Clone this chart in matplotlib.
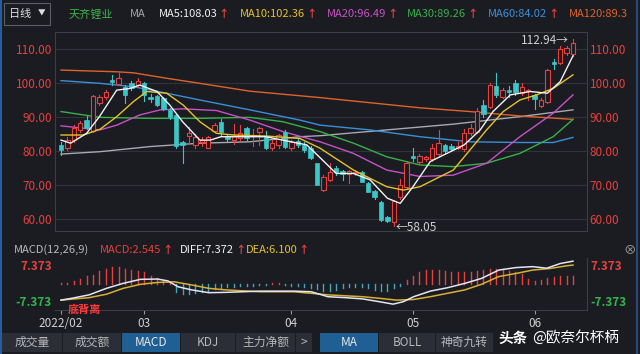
import matplotlib
matplotlib.use('Agg')
import matplotlib.pyplot as plt
from matplotlib.patches import Rectangle
from matplotlib.lines import Line2D

plt.rcParams['font.family'] = ['Noto Sans CJK SC', 'DejaVu Sans']

# daily candles, 2022-02 .. 2022-06
opens = [81.8, 80.8, 83.2, 86.2, 89.0, 86.0, 94.1, 95.8, 100.8, 99.7,
         98.9, 100.1, 99.3, 100.1, 95.8, 96.2, 95.5, 92.1, 90.5, 82.5,
         84.5, 81.8, 82.5, 81.0, 86.0, 88.5, 84.0, 83.2, 83.8, 86.7,
         84.3, 85.7, 84.4, 80.8, 81.8, 85.5, 80.8, 83.0, 81.8, 81.0,
         76.4, 68.5, 71.5, 74.9, 74.0, 73.2, 73.6, 73.9, 70.5, 68.3,
         65.1, 60.5, 59.0, 66.5, 69.5, 78.5, 76.8, 77.5, 77.5, 79.0,
         81.8, 81.5, 80.9, 80.5, 85.2, 85.5, 93.5, 93.0, 99.0, 96.0,
         97.8, 99.9, 97.0, 97.5, 96.5, 93.2, 94.5, 106.2, 105.8, 108.8,
         108.5]
highs = [82.5, 84.2, 87.5, 88.8, 90.3, 96.5, 96.5, 97.8, 102.3, 102.9,
         99.5, 100.5, 101.5, 100.3, 96.8, 96.6, 95.8, 92.6, 91.0, 83.0,
         87.0, 85.0, 84.0, 84.5, 88.2, 89.5, 84.6, 88.0, 87.6, 87.0,
         86.5, 87.2, 86.0, 83.2, 85.0, 86.2, 83.2, 83.5, 82.5, 81.5,
         76.6, 72.8, 76.4, 75.5, 74.5, 74.5, 74.3, 74.2, 70.8, 68.6,
         65.4, 61.0, 65.6, 71.8, 77.0, 81.0, 79.0, 78.6, 82.0, 86.2,
         82.2, 82.0, 82.5, 86.5, 88.0, 92.5, 95.0, 100.0, 103.0, 98.5,
         99.0, 100.9, 100.0, 98.3, 96.8, 95.5, 104.0, 107.2, 111.0, 110.8,
         112.94]
lows = [78.8, 80.3, 82.5, 85.5, 86.5, 85.5, 93.5, 95.3, 99.5, 99.3,
        94.0, 98.0, 98.9, 94.8, 94.3, 93.3, 92.0, 89.5, 81.0, 76.4,
        82.0, 80.9, 81.5, 80.8, 85.5, 84.5, 82.5, 82.0, 83.0, 83.2,
        81.5, 81.8, 80.5, 80.3, 81.0, 80.8, 80.3, 81.2, 79.8, 77.5,
        70.0, 68.3, 71.2, 73.0, 71.5, 70.5, 72.8, 70.8, 67.8, 66.0,
        59.5, 59.2, 58.05, 66.0, 69.0, 77.0, 76.3, 77.0, 77.2, 78.5,
        79.5, 80.0, 80.5, 80.0, 84.8, 85.2, 90.0, 92.5, 96.0, 95.5,
        96.0, 96.5, 96.5, 95.0, 92.3, 92.8, 94.0, 104.0, 105.5, 108.3,
        108.0]
closes = [80.3, 83.2, 86.8, 88.2, 86.9, 96.2, 95.9, 97.4, 100.4, 101.4,
          96.5, 98.6, 100.5, 96.5, 95.3, 93.6, 92.4, 89.9, 81.5, 81.9,
          85.2, 84.2, 83.2, 84.0, 87.6, 85.5, 83.5, 84.3, 85.3, 83.7,
          84.7, 86.7, 81.0, 82.3, 84.7, 81.3, 82.7, 81.8, 80.3, 78.0,
          70.0, 72.4, 73.9, 73.9, 73.2, 74.0, 73.9, 71.0, 68.0, 66.4,
          59.7, 59.5, 65.2, 70.0, 76.4, 78.0, 78.5, 78.3, 80.8, 82.3,
          80.0, 80.5, 81.5, 85.2, 86.8, 91.8, 91.0, 99.4, 96.5, 97.9,
          97.3, 97.4, 98.7, 97.8, 95.2, 95.0, 103.8, 105.6, 110.0, 110.2,
          111.7]

# moving average lines (candle index, value)
ma5_x = [0, 1.5, 4, 6, 8.7, 10.8, 12.3, 15, 17, 19, 21.7, 23.3, 25, 27, 32, 36,
         38.4, 40.5, 43, 45.7, 48.3, 51, 53, 55, 57.7, 60.3, 63, 65.5, 67.5,
         70.2, 73.3, 76, 78, 80]
ma5_y = [83.2, 82.3, 85.2, 90.1, 97.9, 98.4, 99.4, 97.5, 93.5, 88.6, 83.2, 83.2,
         84.2, 84.2, 84.2, 82.7, 81.8, 78.0, 73.4, 73.4, 71.5, 66.1, 64.6, 69.5,
         76.9, 79.3, 81.8, 86.2, 91.6, 96.5, 97.5, 97.0, 100.4, 108.0]
ma10_x = [0, 3.5, 6.1, 8.7, 11.3, 13.4, 16.5, 19.1, 21.7, 24.3, 26.9, 32.1,
          37.3, 40.5, 45.7, 50.9, 53.5, 56.1, 61.3, 63.9, 66.5, 69.1, 71.7,
          74.3, 76.9, 80]
ma10_y = [84.7, 84.7, 86.4, 90.1, 94.5, 97.5, 97.0, 93.5, 88.6, 85.2, 84.7,
          84.4, 83.7, 80.8, 74.4, 69.5, 68.5, 69.5, 74.4, 80.3, 86.2, 91.6,
          95.0, 96.5, 98.4, 102.4]
ma20_x = [0, 3.5, 6.1, 8.7, 12.3, 15.5, 19.1, 24.3, 29.5, 34.7, 40.5, 45.7,
          50.9, 56.1, 61.3, 66.5, 71.7, 76.9, 80]
ma20_y = [87.4, 86.7, 86.2, 87.6, 90.6, 92.1, 92.4, 91.9, 89.1, 85.7, 82.7,
          79.3, 74.4, 72.5, 72.9, 76.4, 84.2, 91.1, 96.5]
ma30_x = [0, 6.1, 13.9, 21.7, 29.5, 34.7, 40.5, 45.7, 50.9, 56.1, 61.3, 66.5,
          71.7, 76.9, 80]
ma30_y = [91.6, 89.9, 89.6, 89.6, 89.9, 88.6, 85.7, 82.3, 78.3, 75.9, 75.4,
          76.4, 79.3, 84.2, 89.3]
ma60_x = [0, 6.1, 11.3, 16.5, 21.7, 29.5, 37.3, 40.5, 48.3, 56.1, 63.9, 71.7,
          76.9, 80]
ma60_y = [100.7, 99.9, 98.9, 97.0, 95.0, 92.1, 89.1, 87.6, 86.2, 84.2, 82.7,
          82.5, 82.5, 84.0]
ma120_x = [0, 8.7, 11.3, 16.5, 21.7, 29.5, 40.5, 48.3, 56.1, 63.9, 71.7, 80]
ma120_y = [103.8, 103.3, 103.0, 101.4, 99.9, 97.6, 95.7, 94.2, 92.7, 91.6,
           90.3, 89.3]
ma250_x = [0, 6.1, 13.9, 21.7, 29.5, 37.3, 40.5, 50.9, 61.3, 71.7, 80]
ma250_y = [79.1, 79.8, 81.3, 82.3, 82.7, 84.2, 84.5, 86.2, 87.9, 90.1, 92.1]

# MACD panel
macd_bars = [0.3, 0.4, 1.0, 1.5, 2.5, 3.0, 4.2, 4.8, 5.6, 5.6,
             5.0, 4.6, 4.3, 3.8, 2.7, 1.8, 1.4, 0.5, -2.7, -3.2,
             -3.2, -3.0, -2.7, -2.2, -1.6, -1.3, -1.1, -0.9, -0.7, -0.6,
             -0.5, -0.4, -0.3, 0.2, 0.3, -0.3, -0.5, -0.6, -0.9, -1.2,
             -1.6, -2.2, -2.4, -1.9, -1.4, -1.1, -1.1, -1.1, -1.4, -1.9,
             -2.4, -2.2, -1.3, -0.5, 1.4, 2.7, 4.0, 4.5, 4.6, 4.6,
             4.3, 4.0, 3.8, 3.8, 4.0, 4.3, 4.6, 4.8, 5.0, 4.8,
             4.3, 3.8, 3.2, 1.6, 1.1, 1.4, 1.8, 2.2, 2.7, 2.7,
             2.7]
diff_x = [0, 1.7, 4.4, 7.1, 9.7, 12.4, 15.1, 16.7, 18.3, 20.4, 23.1, 25.7,
          31.1, 36.4, 39.1, 41.7, 44.4, 47.1, 49.7, 51.9, 53.5, 55.1, 57.7,
          60.4, 63.1, 65.7, 68.4, 71.1, 73.7, 75.9, 78.0, 80]
diff_y = [-5.2, -4.6, -3.5, -1.4, 0.2, 1.5, 1.6, 1.0, -0.9, -1.9, -2.8, -2.7,
          -2.3, -2.3, -2.5, -4.1, -4.4, -4.8, -5.7, -6.5, -5.7, -4.1, -2.3,
          -1.2, 0.2, 1.8, 4.5, 5.3, 5.6, 5.1, 6.6, 7.37]
dea_x = [0, 4.4, 7.1, 9.7, 12.4, 15.1, 17.7, 20.4, 23.1, 25.7, 31.1, 36.4,
         39.1, 41.7, 47.1, 49.7, 52.4, 55.1, 57.7, 60.4, 63.1, 65.7, 68.4,
         71.1, 73.7, 76.4, 79.1, 80]
dea_y = [-5.2, -4.4, -3.3, -1.4, -0.1, 0.5, 0.7, -0.3, -1.4, -1.9, -2.5, -2.5,
         -3.0, -3.5, -4.1, -4.6, -5.2, -5.0, -4.1, -3.0, -1.9, -0.1, 2.4,
         3.4, 4.5, 5.0, 5.9, 6.1]

month_pos = [0, 13, 36, 55, 74]
month_labels = ['2022/02', '03', '04', '05', '06']
price_ticks = [60, 70, 80, 90, 100, 110]

W, H = 640, 354
BG = '#1a1c22'
RED = '#e8403c'
CYAN = '#3cc6c8'
GRID = '#30333b'
EDGE = '#3b3e46'

fig = plt.figure(figsize=(6.4, 3.54), dpi=100, facecolor=BG)
renderer = fig.canvas.get_renderer()


def fx(x):
    return x / W


def fy(y):
    return 1 - y / H


def label(x, y, s, color, size=8, ha='left', **kw):
    return fig.text(fx(x), fy(y), s, color=color, fontsize=size, ha=ha,
                    va='center', **kw)


def label_up(x, y, s, color, size=8):
    # value text followed by the small red "up" arrow
    t = label(x, y, s, color, size)
    right = t.get_window_extent(renderer).x1
    label(right + 1, y, '\u2191', RED, 7.5, weight='bold')


def box(x0, y0, x1, y1, fc, ec='none', lw=0.8):
    fig.add_artist(Rectangle((fx(x0), fy(y1)), (x1 - x0) / W, (y1 - y0) / H,
                             transform=fig.transFigure, facecolor=fc,
                             edgecolor=ec, linewidth=lw))


# ---- price panel
ax = fig.add_axes([fx(55), fy(231), 532 / W, 199 / H])
ax.set_facecolor(BG)
ax.set_xlim(-0.94, 82.19)
ax.set_ylim(56.47, 115.0)
for s in ax.spines.values():
    s.set_color(EDGE)
    s.set_linewidth(0.8)
ax.set_yticks(price_ticks)
ax.set_yticklabels(['%.2f' % v for v in price_ticks])
ax.tick_params(axis='y', labelleft=True, labelright=True, length=0, pad=2,
               labelcolor=RED, labelsize=8.5)
ax.set_xticks([])
ax.grid(axis='y', color=GRID, linewidth=0.8)
ax.set_axisbelow(True)

ax.plot(ma250_x, ma250_y, color='#a8a8b0', lw=1.0)
ax.plot(ma120_x, ma120_y, color='#e0622a', lw=1.0)
ax.plot(ma60_x, ma60_y, color='#3a8fd8', lw=1.0)
ax.plot(ma30_x, ma30_y, color='#38b048', lw=1.0)
ax.plot(ma20_x, ma20_y, color='#c850c8', lw=1.0)

bw = 0.7
for i, (o, h, l, c) in enumerate(zip(opens, highs, lows, closes)):
    up = c >= o
    col = RED if up else CYAN
    top, bot = max(o, c), min(o, c)
    ax.add_line(Line2D([i, i], [top, h], color=col, lw=0.8))
    ax.add_line(Line2D([i, i], [l, bot], color=col, lw=0.8))
    if top - bot < 0.15:
        ax.add_line(Line2D([i - bw / 2, i + bw / 2], [c, c], color=col, lw=0.9))
    elif up:
        ax.add_patch(Rectangle((i - bw / 2, bot), bw, top - bot, facecolor=BG,
                               edgecolor=col, lw=0.8, zorder=3))
    else:
        ax.add_patch(Rectangle((i - bw / 2, bot), bw, top - bot, facecolor=col,
                               edgecolor=col, lw=0.5, zorder=3))

ax.plot(ma10_x, ma10_y, color='#e6c229', lw=1.0, zorder=4)
ax.plot(ma5_x, ma5_y, color='#f2f2f2', lw=1.0, zorder=4)

ax.text(79.3, 112.5, '112.94\u2192', color='#d0d0d0', fontsize=8.5,
        ha='right', va='center')
ax.text(52.3, 57.6, '\u219058.05', color='#d0d0d0', fontsize=8.5,
        ha='left', va='center', clip_on=True)

# ---- MACD panel
ax2 = fig.add_axes([fx(55), fy(310), 532 / W, 52 / H])
ax2.set_facecolor(BG)
ax2.set_xlim(-0.94, 82.19)
ax2.set_ylim(-8.39, 8.39)
for k in ['left', 'top']:
    ax2.spines[k].set_visible(False)
for k in ['right', 'bottom']:
    ax2.spines[k].set_color(EDGE)
    ax2.spines[k].set_linewidth(0.8)
ax2.set_yticks([])
for i, v in enumerate(macd_bars):
    ax2.add_line(Line2D([i, i], [0, v], color=RED if v > 0 else '#3fa8c0', lw=1.0))
ax2.plot(dea_x, dea_y, color='#d8b030', lw=1.1)
ax2.plot(diff_x, diff_y, color='#e4e4f4', lw=1.1)
ax2.set_xticks(month_pos)
ax2.set_xticklabels(month_labels)
ax2.tick_params(axis='x', length=3, width=0.8, color='#9a9a9a', pad=2,
                labelcolor='#d0d0d0', labelsize=8.5)

for side, x in [('right', 52), ('left', 590)]:
    label(x, 266, '7.373', RED, 8.5, ha=side, weight='bold')
    label(x, 302, '-7.373', '#2fb84a', 8.5, ha=side, weight='bold')
label(68, 309, '底背离', '#ff3a3a', 8, weight='bold')

# ---- header
box(4, 3, 50, 25, BG, ec='#5a5d66')
label(9, 14, '日线', '#e0e0e0', 8)
label(38, 14, '\u25bc', '#e0e0e0', 5.5)
label(69, 14, '天齐锂业', '#3db54a', 8)
label(130, 14, 'MA', '#a8a8a8', 8)
label_up(159, 14, 'MA5:108.03', '#f2f2f2')
label_up(240, 14, 'MA10:102.36', '#e6c229')
label_up(327, 14, 'MA20:96.49', '#c850c8')
label_up(407, 14, 'MA30:89.26', '#38b048')
label_up(488, 14, 'MA60:84.02', '#3a8fd8')
label(569, 14, 'MA120:89.3', '#e0622a', 8)

label(14, 250, 'MACD(12,26,9)', '#b8b8b8', 8)
label_up(100, 250, 'MACD:2.545', RED)
label_up(180, 250, 'DIFF:7.372', '#f2f2f2')
label_up(246, 250, 'DEA:6.100', '#e6c229')
label(630, 250, '\u2297', '#a0a0a0', 9, ha='center')

# ---- tab bar
tabs_left = [(2, 62, '成交量'), (63, 121, '成交额'), (122, 180, 'MACD'),
             (181, 235, 'KDJ'), (236, 295, '主力净额'), (296, 312, '>')]
tabs_right = [(320, 378, 'MA'), (379, 435, 'BOLL'), (436, 493, '神奇九转')]
for x0, x1, s in tabs_left + tabs_right:
    active = s in ('MACD', 'MA')
    box(x0, 333, x1, 352, '#1f5f94' if active else '#2b2e36')
    label((x0 + x1) / 2, 342.5, s, '#e8e8e8' if active else '#b8b8b8', 8.5,
          ha='center')

label(498, 338, '头条', '#ffffff', 10.5, weight='bold')
label(532, 338, '@欧奈尔杯柄', '#ffffff', 10.5)

# outer frame edges
fig.add_artist(Line2D([fx(1), fx(1)], [0, 1], color='#2a5c9a', lw=1.5))
fig.add_artist(Line2D([fx(637), fx(637)], [0, 1], color='#2a4a72', lw=1.5))

fig.savefig('out.png', dpi=100, facecolor=BG)
